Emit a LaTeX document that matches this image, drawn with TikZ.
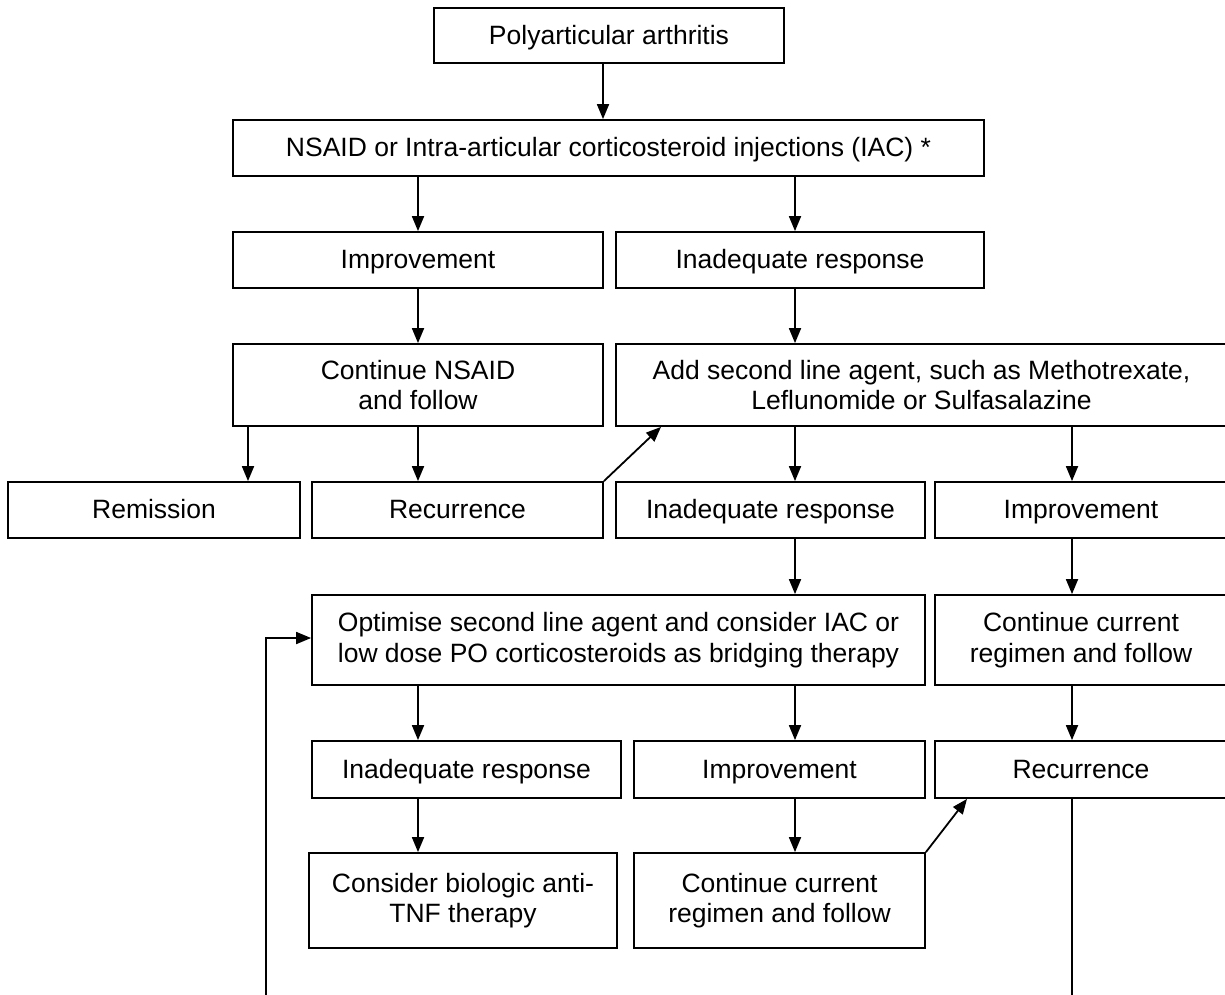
\documentclass[tikz,border=0pt]{standalone}
\usepackage{fontspec}
\setmainfont{Liberation Sans}
\usetikzlibrary{arrows.meta}
\begin{document}
\begin{tikzpicture}[x=1pt,y=-1pt,
  box/.style={draw, line width=1.8pt, inner sep=0pt, align=center,
    font=\fontsize{26.5}{30.5}\selectfont},
  one/.style={text height=19.5pt, text depth=2.5pt},
  arr/.style={line width=1.8pt, -{Triangle[length=15pt,width=12pt]}},
  ln/.style={line width=1.8pt}]
\clip (0,0) rectangle (1225,994);
\fill[white] (0,0) rectangle (1225,994);
% column coordinates
\coordinate (c248) at (248,0);
\coordinate (c418) at (418,0);
\coordinate (c603) at (603,0);
\coordinate (c795) at (795,0);
\coordinate (c1072) at (1072,0);
\coordinate (c661) at (661,0);
\coordinate (c967) at (967,0);
\coordinate (c266) at (266,0);
% nodes
\node[box, one, minimum width=350pt, minimum height=55pt] (pa) at (609,35.5) {Polyarticular arthritis};
\node[box, one, minimum width=751pt, minimum height=56pt] (nsaid) at (608.5,148) {NSAID or Intra-articular corticosteroid injections (IAC) *};
\node[box, one, minimum width=370pt, minimum height=56pt] (imp1) at (418,260) {Improvement};
\node[box, one, minimum width=368pt, minimum height=56pt] (inad1) at (800,260) {Inadequate response};
\node[box, minimum width=370pt, minimum height=82pt] (cont1) at (418,385) {Continue NSAID\\and follow};
\node[box, minimum width=611pt, minimum height=82pt] (add) at (921.5,385) {Add second line agent, such as Methotrexate,\\Leflunomide or Sulfasalazine};
\node[box, one, minimum width=292pt, minimum height=56pt] (rem) at (154,510) {Remission};
\node[box, one, minimum width=291pt, minimum height=56pt] (rec1) at (457.5,510) {Recurrence};
\node[box, one, minimum width=309pt, minimum height=56pt] (inad2) at (770.5,510) {Inadequate response};
\node[box, one, minimum width=292pt, minimum height=56pt] (imp2) at (1081,510) {Improvement};
\node[box, minimum width=613pt, minimum height=90pt] (opt) at (618.5,640) {Optimise second line agent and consider IAC or\\low dose PO corticosteroids as bridging therapy};
\node[box, minimum width=292pt, minimum height=90pt] (cont2) at (1081,640) {Continue current\\regimen and follow};
\node[box, one, minimum width=309pt, minimum height=57pt] (inad3) at (466.5,769.5) {Inadequate response};
\node[box, one, minimum width=291pt, minimum height=57pt] (imp3) at (779.5,769.5) {Improvement};
\node[box, one, minimum width=292pt, minimum height=57pt] (rec2) at (1081,769.5) {Recurrence};
\node[box, minimum width=308pt, minimum height=95pt] (bio) at (463,900.5) {Consider biologic anti-\\TNF therapy};
\node[box, minimum width=291pt, minimum height=95pt] (cont3) at (779.5,900.5) {Continue current\\regimen and follow};
\coordinate (bot1072) at (1072,1000);
\coordinate (bot266) at (266,1000);
% connectors
\draw[arr] (pa.south -| c603) -- (nsaid.north -| c603);
\draw[arr] (nsaid.south -| c418) -- (imp1.north -| c418);
\draw[arr] (nsaid.south -| c795) -- (inad1.north -| c795);
\draw[arr] (imp1.south -| c418) -- (cont1.north -| c418);
\draw[arr] (inad1.south -| c795) -- (add.north -| c795);
\draw[arr] (cont1.south -| c248) -- (rem.north -| c248);
\draw[arr] (cont1.south -| c418) -- (rec1.north -| c418);
\draw[arr] (rec1.north east) -- (add.south -| c661);
\draw[arr] (add.south -| c795) -- (inad2.north -| c795);
\draw[arr] (add.south -| c1072) -- (imp2.north -| c1072);
\draw[arr] (inad2.south -| c795) -- (opt.north -| c795);
\draw[arr] (imp2.south -| c1072) -- (cont2.north -| c1072);
\draw[arr] (opt.south -| c418) -- (inad3.north -| c418);
\draw[arr] (opt.south -| c795) -- (imp3.north -| c795);
\draw[arr] (cont2.south -| c1072) -- (rec2.north -| c1072);
\draw[arr] (inad3.south -| c418) -- (bio.north -| c418);
\draw[arr] (imp3.south -| c795) -- (cont3.north -| c795);
\draw[arr] (cont3.north east) -- (rec2.south -| c967);
\draw[ln] (rec2.south -| c1072) -- (bot1072);
\draw[arr] (bot266) |- ([yshift=2pt]opt.west);
\end{tikzpicture}
\end{document}
